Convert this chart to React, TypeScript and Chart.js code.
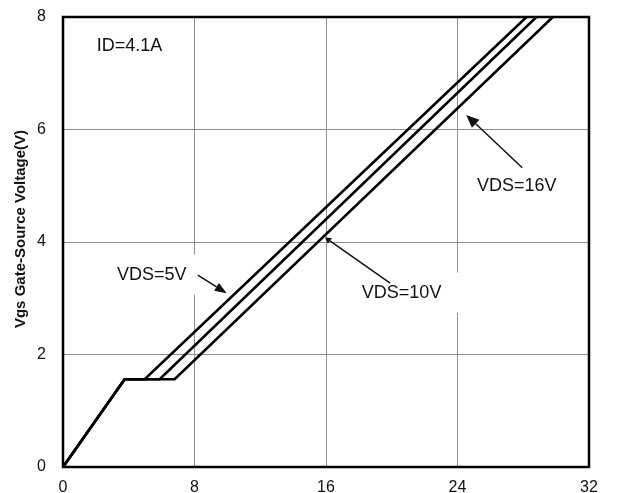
import React, { useEffect, useRef } from "react";
import { Chart, registerables } from "chart.js";

Chart.register(...registerables);

// Axis ticks
const xTicks = [0, 8, 16, 24, 32];
const yTicks = [0, 2, 4, 6, 8];

// Gate charge curves (Qg in nC vs Vgs in V)
const vds5X = [0, 3.75, 4.97, 28.2];
const vds5Y = [0, 1.56, 1.56, 8];
const vds10X = [0, 3.75, 5.88, 28.8];
const vds10Y = [0, 1.56, 1.56, 8];
const vds16X = [0, 3.75, 6.79, 29.8];
const vds16Y = [0, 1.56, 1.56, 8];

// Annotation texts and anchor positions (data units)
const labelTexts = ["ID=4.1A", "VDS=5V", "VDS=10V", "VDS=16V"];
const labelX = [4.05, 5.4, 20.6, 27.6];
const labelY = [7.48, 3.42, 3.1, 5.0];
// arrows: from (x0,y0) to tip (x1,y1)
const arrowFromX = [8.2, 19.9, 27.94];
const arrowFromY = [3.41, 3.27, 5.32];
const arrowToX = [9.96, 15.94, 24.53];
const arrowToY = [3.09, 4.08, 6.26];

const yTitle = "Vgs Gate-Source Voltage(V)";

const toPts = (xs: number[], ys: number[]) => xs.map((x, i) => ({ x, y: ys[i] }));

const annotationPlugin = {
  id: "annotations",
  beforeDatasetsDraw(chart: any) {
    const { ctx, scales } = chart;
    const x = scales.x;
    const y = scales.y;
    ctx.save();
    ctx.fillStyle = "#ffffff";
    // white backgrounds behind labels (break the grid lines)
    const boxes = [
      [38, 20],
      [46, 20],
      [56, 20],
      [50, 18],
    ];
    labelTexts.forEach((t, i) => {
      const cx = x.getPixelForValue(labelX[i]);
      const cy = y.getPixelForValue(labelY[i]);
      const [hw, hh] = boxes[i];
      ctx.fillRect(cx - hw, cy - hh, hw * 2 + 2, hh * 2);
    });
    ctx.restore();
  },
  afterDraw(chart: any) {
    const { ctx, chartArea, scales } = chart;
    const x = scales.x;
    const y = scales.y;
    ctx.save();
    // frame
    ctx.strokeStyle = "#000";
    ctx.lineWidth = 2.5;
    ctx.strokeRect(chartArea.left, chartArea.top, chartArea.right - chartArea.left, chartArea.bottom - chartArea.top);

    // labels
    ctx.fillStyle = "#111";
    ctx.font = "18px 'Liberation Sans', Arial, sans-serif";
    ctx.textAlign = "center";
    ctx.textBaseline = "middle";
    labelTexts.forEach((t, i) => {
      ctx.fillText(t, x.getPixelForValue(labelX[i]), y.getPixelForValue(labelY[i]));
    });

    // arrows
    const heads = [
      [12, 4.5],
      [6, 3.5],
      [13, 5.5],
    ];
    ctx.strokeStyle = "#111";
    ctx.lineWidth = 1.5;
    arrowFromX.forEach((_, i) => {
      const x0 = x.getPixelForValue(arrowFromX[i]);
      const y0 = y.getPixelForValue(arrowFromY[i]);
      const x1 = x.getPixelForValue(arrowToX[i]);
      const y1 = y.getPixelForValue(arrowToY[i]);
      const ang = Math.atan2(y1 - y0, x1 - x0);
      const [len, w] = heads[i];
      const bx = x1 - Math.cos(ang) * len;
      const by = y1 - Math.sin(ang) * len;
      ctx.beginPath();
      ctx.moveTo(x0, y0);
      ctx.lineTo(bx, by);
      ctx.stroke();
      ctx.beginPath();
      ctx.moveTo(x1, y1);
      ctx.lineTo(bx + Math.sin(ang) * w, by - Math.cos(ang) * w);
      ctx.lineTo(bx - Math.sin(ang) * w, by + Math.cos(ang) * w);
      ctx.closePath();
      ctx.fill();
    });

    // y axis title
    ctx.save();
    ctx.translate(21, 229);
    ctx.rotate(-Math.PI / 2);
    ctx.font = "bold 15px 'Liberation Sans', Arial, sans-serif";
    ctx.fillStyle = "#111";
    ctx.textAlign = "center";
    ctx.textBaseline = "middle";
    ctx.fillText(yTitle, 0, 0);
    ctx.restore();

    ctx.restore();
  },
};

export default function App() {
  const ref = useRef<HTMLCanvasElement | null>(null);
  useEffect(() => {
    if (!ref.current) return;
    const mk = (xs: number[], ys: number[], label: string) => ({
      label,
      data: toPts(xs, ys),
      showLine: true,
      borderColor: "#000",
      backgroundColor: "#000",
      borderWidth: 2.6,
      pointRadius: 0,
      tension: 0,
    });
    const chart = new Chart(ref.current, {
      type: "scatter",
      data: {
        datasets: [mk(vds5X, vds5Y, "VDS=5V"), mk(vds10X, vds10Y, "VDS=10V"), mk(vds16X, vds16Y, "VDS=16V")],
      },
      options: {
        animation: false,
        responsive: true,
        maintainAspectRatio: false,
        layout: { padding: { left: 0, right: 28, top: 17, bottom: 0 } },
        plugins: { legend: { display: false }, tooltip: { enabled: false } },
        scales: {
          x: {
            type: "linear",
            min: 0,
            max: 32,
            afterBuildTicks: (s: any) => {
              s.ticks = xTicks.map((v) => ({ value: v }));
            },
            afterFit: (s: any) => {
              s.height = 26;
              s.paddingLeft = 0;
              s.paddingRight = 0;
            },
            ticks: {
              color: "#111",
              font: { family: "'Liberation Sans', Arial, sans-serif", size: 16 },
              padding: 11,
              maxRotation: 0,
            },
            grid: { color: "#8f8f8f", lineWidth: 1, drawTicks: false },
            border: { display: false },
          },
          y: {
            type: "linear",
            min: 0,
            max: 8,
            afterBuildTicks: (s: any) => {
              s.ticks = yTicks.map((v) => ({ value: v }));
            },
            afterFit: (s: any) => {
              s.width = 63;
              s.paddingTop = 0;
              s.paddingBottom = 0;
            },
            ticks: {
              color: "#111",
              font: { family: "'Liberation Sans', Arial, sans-serif", size: 16 },
              padding: 17,
            },
            grid: { color: "#8f8f8f", lineWidth: 1, drawTicks: false },
            border: { display: false },
          },
        },
      },
      plugins: [annotationPlugin],
    });
    return () => chart.destroy();
  }, []);
  return (
    <div style={{ position: "absolute", left: 0, top: 0, width: 617, height: 493, background: "#fff" }}>
      <canvas ref={ref} />
    </div>
  );
}
